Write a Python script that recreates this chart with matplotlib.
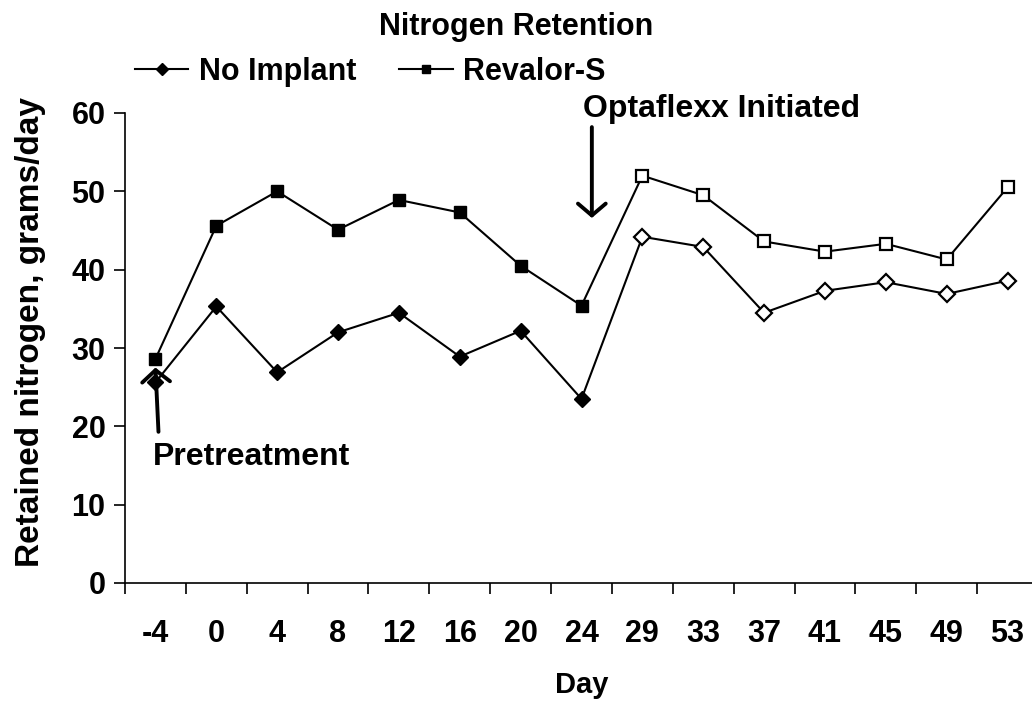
import matplotlib.pyplot as plt
import numpy as np

plt.rcParams['font.family'] = ['Liberation Sans', 'DejaVu Sans']
plt.rcParams['font.weight'] = 'bold'

# === Daten
days = ["-4", "0", "4", "8", "12", "16", "20", "24", "29", "33", "37", "41", "45", "49", "53"]
no_implant = [25.6, 35.3, 26.9, 32.0, 34.5, 28.9, 32.2, 23.5, 44.2, 42.9, 34.5, 37.3, 38.4, 36.9, 38.6]
revalor_s = [28.6, 45.6, 50.0, 45.1, 48.9, 47.3, 40.5, 35.4, 52.0, 49.5, 43.6, 42.3, 43.3, 41.3, 50.5]
n_pre = 8  # Punkte vor Optaflexx (gefuellte Marker)

x = np.arange(len(days))

# === Plot
fig = plt.figure(figsize=(10.32, 7.06), dpi=100)
ax = fig.add_axes([125 / 1032, 1 - 583 / 706, 913 / 1032, 470 / 706])

for vals, mk, ms in [(no_implant, 'D', 8.5), (revalor_s, 's', 8.5)]:
    ax.plot(x, vals, color='black', lw=1.5, zorder=2)
    ax.plot(x[:n_pre], vals[:n_pre], ls='none', marker=mk, ms=ms, mfc='black', mec='black', zorder=3)
    ax.plot(x[n_pre:], vals[n_pre:], ls='none', marker=mk, ms=ms, mfc='white', mec='black', mew=1.6, zorder=3)

# Legende (Linie mit Marker)
h1, = ax.plot([], [], color='black', lw=1.5, marker='D', ms=6)
h2, = ax.plot([], [], color='black', lw=1.5, marker='s', ms=6)
fig.legend([h1, h2], ['No Implant', 'Revalor-S'], loc='center left',
           bbox_to_anchor=(135 / 1032, 1 - 72 / 706), ncol=2, frameon=False,
           prop={'size': 22, 'weight': 'bold'}, handlelength=1.75, handletextpad=0.35,
           columnspacing=1.4, borderaxespad=0, borderpad=0)

# === Achsen
ax.set_xlim(-0.5, len(days) - 0.5)
ax.set_ylim(0, 60)
ax.set_yticks(range(0, 61, 10))
ax.set_xticks(np.arange(-0.5, len(days), 1))
ax.set_xticklabels([])
ax.set_xticks(x, minor=True)
ax.set_xticklabels(days, minor=True)
ax.tick_params(axis='x', which='major', direction='out', length=8, width=1.2)
ax.tick_params(axis='x', which='minor', length=0, pad=26, labelsize=22)
ax.tick_params(axis='y', direction='out', length=8, width=1.2, labelsize=22, pad=6)
for s in ['top', 'right']:
    ax.spines[s].set_visible(False)
for s in ['left', 'bottom']:
    ax.spines[s].set_linewidth(1.2)

ax.set_xlabel('Day', fontsize=21, fontweight='bold', labelpad=16)
ax.set_ylabel('Retained nitrogen, grams/day', fontsize=24, fontweight='bold')
ax.yaxis.set_label_coords((46 - 125) / 913, 0.534)

fig.text(516 / 1032, 1 - 35 / 706, 'Nitrogen Retention', ha='center', va='baseline',
         fontsize=22, fontweight='bold')

# === Annotationen
arrow = dict(arrowstyle='->,head_length=0.85,head_width=1.0', color='black', lw=2.8,
             shrinkA=0, shrinkB=0)
ax.annotate('', xy=(0.0, 27.5), xytext=(0.05, 19.3), arrowprops=arrow, annotation_clip=False)
ax.text(-0.04, 15.1, 'Pretreatment', fontsize=23, fontweight='bold', ha='left', va='baseline')
ax.annotate('', xy=(7.17, 46.6), xytext=(7.17, 58.2), arrowprops=arrow, annotation_clip=False)
ax.text(7.02, 59.5, 'Optaflexx Initiated', fontsize=23, fontweight='bold', ha='left',
        va='baseline', clip_on=False)

plt.savefig('out.png', dpi=100)
plt.close()
